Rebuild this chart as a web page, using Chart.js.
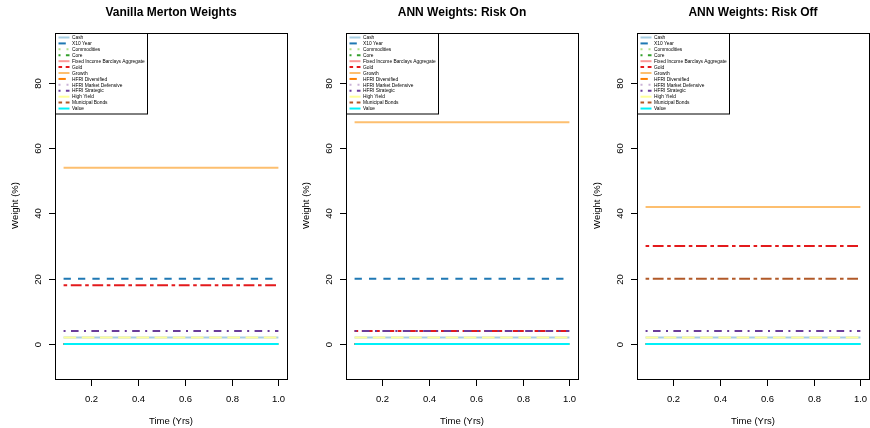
<!DOCTYPE html>
<html><head><meta charset="utf-8">
<script src="https://cdn.jsdelivr.net/npm/chart.js@4"></script>
<style>
html,body{margin:0;padding:0;background:#fff;overflow:hidden;width:870px;height:428px;}
#wrap{position:relative;width:870px;height:428px;overflow:hidden;}
.pn{position:absolute;top:0;width:290px;height:428px;}
</style></head><body>
<div id="wrap">
<div class="pn" style="left:0px"><canvas id="c0" width="290" height="428"></canvas></div>
<div class="pn" style="left:291px"><canvas id="c1" width="290" height="428"></canvas></div>
<div class="pn" style="left:582px"><canvas id="c2" width="290" height="428"></canvas></div>
</div>
<script>
// ---- data ----
const times = [0.0833, 0.1667, 0.25, 0.3333, 0.4167, 0.5, 0.5833, 0.6667, 0.75, 0.8333, 0.9167, 1.0];
const assets = ["Cash","X10 Year","Commodities","Core","Fixed Income Barclays Aggregate","Gold","Growth","HFRI Diversified","HFRI Market Defensive","HFRI Strategic","High Yield","Municipal Bonds","Value"];
const panelTitles = ["Vanilla Merton Weights","ANN Weights: Risk On","ANN Weights: Risk Off"];
const mertonWeights  = [2, 20, 0, 0, 0, 18, 54, 0, 0, 4, 2, 0, 0];
const riskOnWeights  = [2, 20, 0, 0, 0, 4, 68, 0, 0, 4, 2, 0, 0];
const riskOffWeights = [2, 0, 0, 0, 0, 30, 42, 0, 0, 4, 2, 20, 0];
const xTicks = [0.2, 0.4, 0.6, 0.8, 1.0];
const yTicks = [0, 20, 40, 60, 80];
const xTitle = "Time (Yrs)";
const yTitle = "Weight (%)";

// ---- styles ----
const colors = ["#A6CEE3","#1F78B4","#B2DF8A","#33A02C","#FB9A99","#E31A1C","#FDBF6F","#FF7F00","#CAB2D6","#6A3D9A","#FFFF99","#B15928","#00F0F8"];
const ltys = [
  [], [7.3,7.1], [2,6], [2,5.4,7.6,5.4], [12.6,5.6], [3.6,3.6,10.8,3.6]
];
const dashFor = i => ltys[i % 6];

const FONT = '"Liberation Sans", Arial, Helvetica, sans-serif';

const rPlot = {
  id: 'rPlot',
  afterDraw(chart, args, opts) {
    const ctx = chart.ctx;
    const a = chart.chartArea;
    const xs = chart.scales.x, ys = chart.scales.y;
    ctx.save();
    ctx.setLineDash([]);
    const L = Math.round(a.left), T = Math.round(a.top);
    const R = Math.round(a.right), B = Math.round(a.bottom);
    ctx.font = '9.5px ' + FONT;
    // y ticks
    yTicks.forEach(v => {
      const y = Math.round(ys.getPixelForValue(v));
      ctx.fillStyle = '#000';
      ctx.fillRect(L - 6, y, 7, 1);
      ctx.save();
      ctx.translate(L - 14.5, y + 0.5);
      ctx.rotate(-Math.PI / 2);
      ctx.textAlign = 'center'; ctx.textBaseline = 'alphabetic';
      ctx.fillText(String(v), 0, 0);
      ctx.restore();
    });
    // x ticks
    xTicks.forEach(v => {
      const x = Math.round(xs.getPixelForValue(v));
      ctx.fillStyle = '#000';
      ctx.fillRect(x, B, 1, 7);
      ctx.textAlign = 'center'; ctx.textBaseline = 'alphabetic';
      ctx.fillText(v.toFixed(1), x + 0.5, B + 22.5);
    });
    // box
    ctx.strokeStyle = '#000';
    ctx.lineWidth = 1;
    ctx.strokeRect(L + 0.5, T + 0.5, R - L, B - T);
    // axis titles
    ctx.fillStyle = '#000';
    ctx.textAlign = 'center';
    ctx.fillText(xTitle, (a.left + a.right) / 2, B + 45);
    ctx.save();
    ctx.translate(18, (a.top + a.bottom) / 2);
    ctx.rotate(-Math.PI / 2);
    ctx.fillText(yTitle, 0, 0);
    ctx.restore();
    // title
    ctx.font = 'bold 12px ' + FONT;
    ctx.fillText(opts.title, (a.left + a.right) / 2, 16);
    // legend
    const lw = 92, lh = 80.5;
    ctx.fillStyle = '#fff';
    ctx.fillRect(L + 0.5, T + 0.5, lw, lh);
    ctx.strokeStyle = '#000';
    ctx.lineWidth = 1;
    ctx.strokeRect(L + 0.5, T + 0.5, lw, lh);
    ctx.font = '4.85px ' + FONT;
    ctx.textAlign = 'left'; ctx.textBaseline = 'middle';
    chart.data.datasets.forEach((ds, i) => {
      const y = T + 4.5 + i * 5.92;
      ctx.save();
      ctx.strokeStyle = ds.borderColor;
      ctx.lineWidth = 2;
      ctx.setLineDash(ds.borderDash || []);
      ctx.beginPath(); ctx.moveTo(L + 3.5, y); ctx.lineTo(L + 14.5, y); ctx.stroke();
      ctx.restore();
      ctx.fillStyle = '#000';
      ctx.fillText(ds.label, L + 17, y + 0.3);
    });
    ctx.restore();
  }
};

function makePanel(id, title, weights) {
  const datasets = assets.map((name, i) => ({
    label: name,
    data: times.map(t => ({ x: t, y: weights[i] })),
    borderColor: colors[i],
    borderWidth: 2,
    borderDash: dashFor(i),
    borderCapStyle: 'butt',
    pointRadius: 0,
    fill: false,
    tension: 0,
    order: assets.length - 1 - i
  }));
  new Chart(document.getElementById(id), {
    type: 'line',
    data: { datasets },
    options: {
      responsive: false,
      devicePixelRatio: 1,
      animation: false,
      layout: { padding: { left: 55, right: 3, top: 32.5, bottom: 49.5 } },
      scales: {
        x: { type: 'linear', min: 0.0467, max: 1.0367, display: false },
        y: { type: 'linear', min: -10.6, max: 95.5, display: false }
      },
      plugins: {
        legend: { display: false },
        tooltip: { enabled: false },
        rPlot: { title }
      }
    },
    plugins: [rPlot]
  });
}

makePanel('c0', panelTitles[0], mertonWeights);
makePanel('c1', panelTitles[1], riskOnWeights);
makePanel('c2', panelTitles[2], riskOffWeights);
</script>
</body></html>
